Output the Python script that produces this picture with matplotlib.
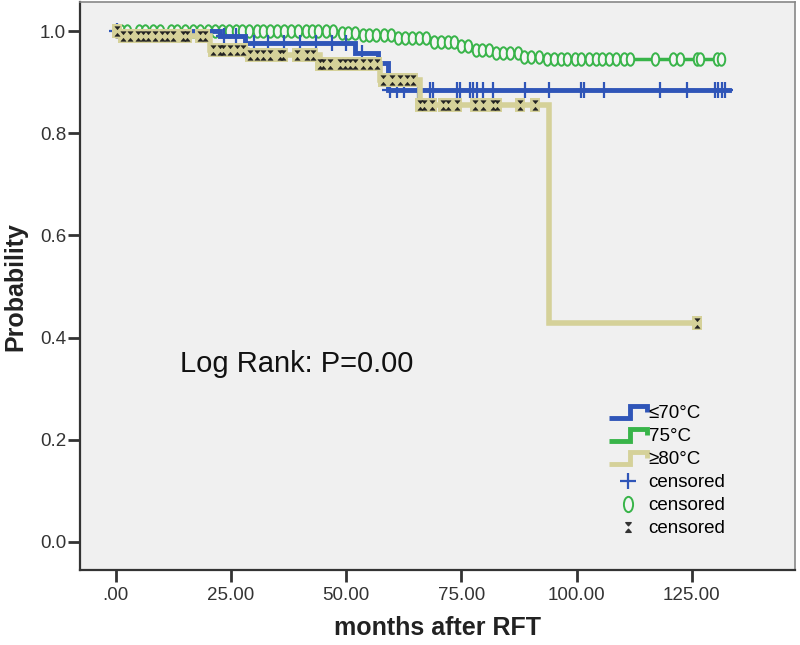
import matplotlib
matplotlib.use("Agg")
import matplotlib.pyplot as plt
import numpy as np
from matplotlib.lines import Line2D
from matplotlib.path import Path
from matplotlib.legend_handler import HandlerBase

plt.rcParams["font.family"] = ["Liberation Sans", "DejaVu Sans"]

# Kaplan-Meier step curves (time in months, survival probability)
blue_t = [0, 22.7, 28.1, 51.9, 56.9, 59.1]
blue_s = [1.0, 0.99, 0.977, 0.958, 0.938, 0.885]
blue_end = 133.0

green_t = [0, 48.7, 53.0, 60.6, 68.2, 73.6, 76.9, 81.2, 87.7, 93.2]
green_s = [1.0, 0.997, 0.993, 0.986, 0.978, 0.97, 0.963, 0.957, 0.95, 0.945]
green_end = 131.4

yellow_t = [0, 0.5, 20.5, 28.5, 44.3, 57.4, 66.0, 94.0]
yellow_s = [1.0, 0.99, 0.963, 0.953, 0.935, 0.905, 0.855, 0.429]
yellow_end = 126.2

# censored observations (months)
blue_cens = [0.2, 23.5, 26.0, 30.0, 33.0, 36.5, 40.0, 43.5, 47.0, 50.0, 53.5,
             59.5, 61.0, 62.5, 65.5, 68.2, 68.9, 74.1, 74.7, 76.9, 77.5, 78.4,
             79.7, 81.9, 88.8, 94.0, 100.9, 101.6, 105.9, 118.1, 124.0, 130.1,
             130.7, 131.6, 132.2]
green_cens = [1.2, 2.5, 5.0, 6.4, 8.1, 9.6, 12.0, 13.3, 15.0, 16.8, 18.3, 20.1,
              21.5, 23.0, 24.6, 26.0, 27.5, 29.0, 30.6, 32.0, 33.5, 35.1, 36.6,
              38.0, 39.6, 41.2, 42.7, 44.0, 45.7, 47.2, 49.0, 50.4, 52.0, 53.6,
              55.0, 56.5, 58.2, 59.7, 61.3, 62.8, 64.2, 65.8, 67.3, 69.0, 70.5,
              72.0, 73.4, 75.0, 76.5, 78.1, 79.5, 81.0, 82.6, 84.1, 85.6, 87.2,
              88.6, 90.2, 91.8, 93.5, 95.0, 96.5, 98.0, 99.6, 101.0, 102.6,
              104.1, 105.6, 107.0, 108.6, 110.3, 111.6, 117.0, 120.8, 122.4,
              126.1, 126.8, 130.5, 131.2]
yellow_cens = [0.3, 1.6, 3.1, 4.8, 5.9, 7.0, 8.5, 10.1, 11.1, 12.4, 14.6, 15.5,
               18.3, 19.4, 21.1, 22.6, 23.3, 24.8, 26.3, 27.6, 29.1, 30.7, 32.0,
               33.5, 35.7, 36.3, 39.4, 41.5, 42.8, 44.3, 45.0, 46.5, 48.7, 49.8,
               50.9, 52.0, 53.7, 55.2, 56.7, 58.0, 60.0, 61.7, 63.2, 64.6, 66.1,
               66.8, 68.7, 70.9, 72.0, 74.1, 78.0, 79.7, 81.9, 82.8, 87.8, 91.0,
               126.2]

labels = ["≤70°C", "75°C", "≥80°C"]
xticks = [0, 25, 50, 75, 100, 125]
xticklabels = [".00", "25.00", "50.00", "75.00", "100.00", "125.00"]
yticks = [0.0, 0.2, 0.4, 0.6, 0.8, 1.0]
yticklabels = ["0.0", "0.2", "0.4", "0.6", "0.8", "1.0"]

blue = "#2f55b8"
green = "#38b449"
khaki = "#d5d199"

# markers
hourglass = Path([(-0.55, 1), (0.55, 1), (0, 0.35), (-0.55, 1),
                  (-0.55, -1), (0.55, -1), (0, -0.35), (-0.55, -1)],
                 [Path.MOVETO, Path.LINETO, Path.LINETO, Path.CLOSEPOLY,
                  Path.MOVETO, Path.LINETO, Path.LINETO, Path.CLOSEPOLY])
tallbox = Path([(-0.75, -1), (0.75, -1), (0.75, 1), (-0.75, 1), (-0.75, -1)],
               [Path.MOVETO, Path.LINETO, Path.LINETO, Path.LINETO,
                Path.CLOSEPOLY])
oval = Path.unit_circle().transformed(
    matplotlib.transforms.Affine2D().scale(0.6, 1.0))


def km_value(t, times, surv):
    idx = np.searchsorted(times, t, side="right") - 1
    return np.array(surv)[idx]


class StepHandler(HandlerBase):
    def create_artists(self, legend, orig_handle, xdescent, ydescent,
                       width, height, fontsize, trans):
        xs = np.array([0, 0.55, 0.55, 1.0, 1.0]) * width - xdescent
        ys = np.array([0.05, 0.05, 0.95, 0.95, 0.45]) * height - ydescent
        ln = Line2D(xs, ys, color=orig_handle.get_color(),
                    lw=orig_handle.get_linewidth(), solid_joinstyle="miter",
                    solid_capstyle="butt", transform=trans)
        return [ln]


fig = plt.figure(figsize=(8, 6.45), dpi=100)
ax = fig.add_axes([0.1, 0.1163, 0.894, 0.8806])
ax.set_facecolor("#f0f0f0")

curves = [
    (green_t, green_s, green_end, green, 2.5, 2),
    (blue_t, blue_s, blue_end, blue, 3.5, 3),
    (yellow_t, yellow_s, yellow_end, khaki, 4.0, 4),
]
for t, s, end, col, lw, z in curves:
    ax.step(list(t) + [end], list(s) + [s[-1]], where="post", color=col,
            lw=lw, zorder=z, solid_joinstyle="miter")

# censor marks
ax.plot(green_cens, km_value(green_cens, green_t, green_s), ls="none",
        marker=oval, ms=9, mfc="#f4f4f4", mec=green, mew=1.4, zorder=2.5)
ax.plot(blue_cens, km_value(blue_cens, blue_t, blue_s), ls="none",
        marker="+", ms=11, mec=blue, mew=1.6, zorder=3.5)
ax.plot(yellow_cens, km_value(yellow_cens, yellow_t, yellow_s), ls="none",
        marker=tallbox, ms=10, mfc=khaki, mec=khaki, mew=0, zorder=4.5)
ax.plot(yellow_cens, km_value(yellow_cens, yellow_t, yellow_s), ls="none",
        marker=hourglass, ms=7, mfc="#222222", mec="#222222", mew=0.3,
        zorder=4.6)

ax.set_xlim(-7.73, 147.4)
ax.set_ylim(-0.055, 1.057)
ax.set_xticks(xticks)
ax.set_xticklabels(xticklabels)
ax.set_yticks(yticks)
ax.set_yticklabels(yticklabels)
ax.tick_params(axis="both", direction="out", length=8.5, width=2,
               color="#333333", labelsize=13.5, labelcolor="#333333")
ax.tick_params(axis="x", pad=3.5)
ax.tick_params(axis="y", pad=1.5)
for side in ["left", "bottom"]:
    ax.spines[side].set_color("#333333")
    ax.spines[side].set_linewidth(1.6)
for side in ["top", "right"]:
    ax.spines[side].set_color("#888888")
    ax.spines[side].set_linewidth(1.2)

ax.text(14.0, 0.333, "Log Rank: P=0.00", fontsize=21, color="#111111",
        va="baseline", ha="left")

fig.text(0.019, 0.556, "Probability", rotation=90, fontsize=18,
         fontweight="bold", ha="center", va="center", color="#222222")
fig.text(0.547, 0.027, "months after RFT", fontsize=18, fontweight="bold",
         ha="center", va="center", color="#222222")

handles = [
    Line2D([], [], color=blue, lw=3.5),
    Line2D([], [], color=green, lw=3.5),
    Line2D([], [], color=khaki, lw=3.5),
    Line2D([], [], ls="none", marker="+", ms=11, mec=blue, mew=1.6),
    Line2D([], [], ls="none", marker=oval, ms=11, mfc="#f4f4f4", mec=green,
           mew=1.4),
    Line2D([], [], ls="none", marker=hourglass, ms=7, mfc="#333333",
           mec="#333333"),
]
hmap = {h: StepHandler() for h in handles[:3]}
ax.legend(handles, labels + ["censored"] * 3, handler_map=hmap,
          loc="upper left", bbox_to_anchor=(0.74, 0.29), frameon=False,
          fontsize=13.5, handlelength=2.0, handletextpad=0.1,
          labelspacing=0.31, borderpad=0, borderaxespad=0)

fig.savefig("out.png", dpi=100)
